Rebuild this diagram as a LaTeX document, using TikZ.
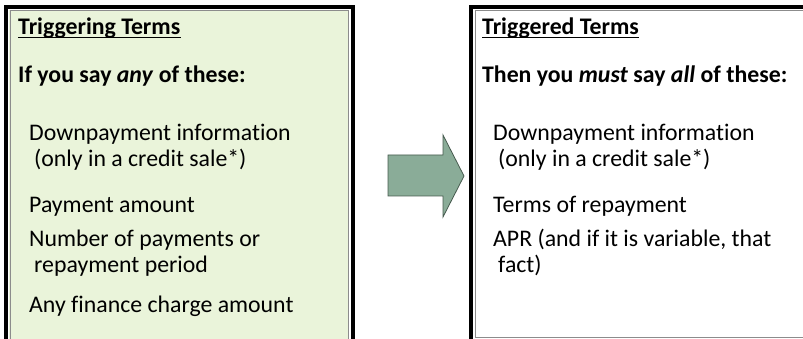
\documentclass[tikz,border=0pt]{standalone}
\usepackage{fontspec}
\setmainfont{Carlito}[Ligatures=NoCommon]
\begin{document}
\begin{tikzpicture}[x=1pt,y=-1pt,
  txt/.style={anchor=base west,inner sep=0pt,font=\fontsize{23.8}{28}\selectfont},
  hdr/.style={txt,font=\fontsize{23.8}{28}\selectfont\bfseries},
  outerframe/.style={draw=black,line width=4pt},
  innerframe/.style={draw=black!45,line width=1pt}]
\definecolor{boxgreen}{RGB}{234,244,218}
\definecolor{arrowgreen}{RGB}{138,172,152}
\definecolor{arrowline}{RGB}{70,90,78}
\useasboundingbox (0,0) rectangle (803,339);
% left box
\fill[boxgreen] (9,10) rectangle (349,345);
\draw[outerframe] (5.5,7) rectangle (352.5,350);
\draw[innerframe] (10,11) rectangle (348.5,346);
% right box
\draw[outerframe] (471,7) rectangle (830,341);
\draw[innerframe] (475.5,11) rectangle (826,337);
% arrow
\draw[fill=arrowgreen,draw=arrowline,line width=0.8pt]
  (388,155) -- (443,155) -- (443,135) -- (464,176) -- (443,217) -- (443,196) -- (388,196) -- cycle;
% left texts
\node[hdr] (lt) at (18,35) {Triggering Terms};
\draw[line width=1.4pt] ([yshift=-2.5pt]lt.base west) -- ([yshift=-2.5pt]lt.base east);
\node[hdr] (lh) at (18,83) {If you say \textit{any} of these:};
\node[txt] (l1) at (29,141) {Downpayment information};
\node[txt] (l2) at (34,167) {(only in a credit sale*)};
\node[txt] (l3) at (29,212) {Payment amount};
\node[txt] (l4) at (29,247) {Number of payments or};
\node[txt] (l5) at (34,272) {repayment period};
\node[txt] (l6) at (29,312) {Any finance charge amount};
% right texts
\node[hdr] (rt) at (482,35) {Triggered Terms};
\draw[line width=1.4pt] ([yshift=-2.5pt]rt.base west) -- ([yshift=-2.5pt]rt.base east);
\node[hdr] (rh) at (482,83) {Then you \textit{must} say \textit{all} of these:};
\node[txt] (r1) at (493,141) {Downpayment information};
\node[txt] (r2) at (498,167) {(only in a credit sale*)};
\node[txt] (r3) at (493,212) {Terms of repayment};
\node[txt] (r4) at (493,247) {APR (and if it is variable, that};
\node[txt] (r5) at (498,272) {fact)};
\end{tikzpicture}
\end{document}
